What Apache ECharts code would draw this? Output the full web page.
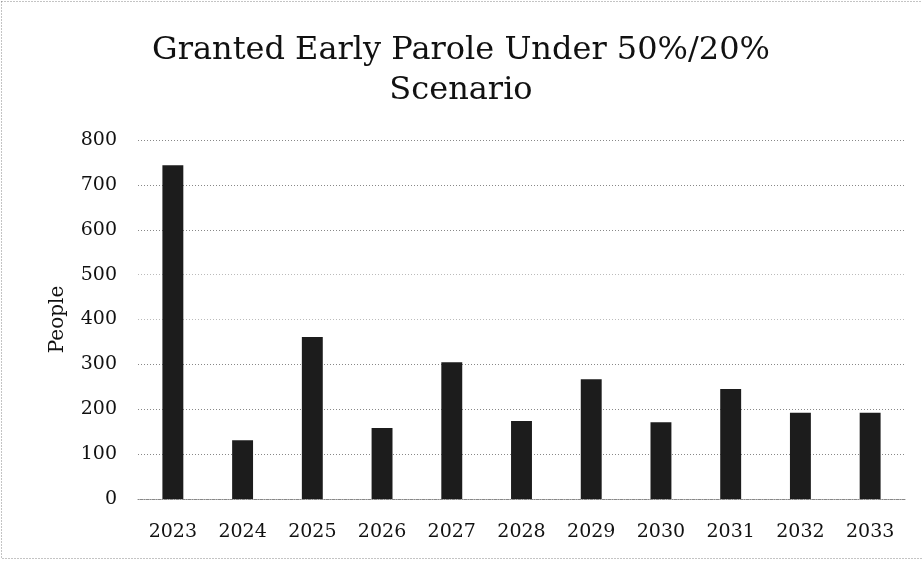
<!DOCTYPE html>
<html>
<head>
<meta charset="utf-8">
<script src="https://cdn.jsdelivr.net/npm/echarts@6/dist/echarts.min.js"></script>
<style>
html, body { margin: 0; padding: 0; background: #fff; }
#chart { width: 922px; height: 561px; }
</style>
</head>
<body>
<div id="chart"></div>
<script>
const years = ['2023', '2024', '2025', '2026', '2027', '2028', '2029', '2030', '2031', '2032', '2033'];
const people = [744, 131, 361, 158, 305, 174, 267, 171, 245, 192, 192];
const yTicks = [0, 100, 200, 300, 400, 500, 600, 700, 800];

const serif = '"DejaVu Serif", "Liberation Serif", serif';
const chart = echarts.init(document.getElementById('chart'));

chart.setOption({
	backgroundColor: '#fff',
	animation: false,
	title: {
		text: 'Granted Early Parole Under 50%/20%\nScenario',
		left: 'center',
		top: 26,
		textStyle: {
			fontFamily: serif,
			fontWeight: 'normal',
			fontSize: 32,
			lineHeight: 40,
			color: '#111'
		}
	},
	graphic: [{
		type: 'rect',
		shape: { x: 1.5, y: 1.5, width: 930, height: 557 },
		style: { fill: 'none', stroke: '#888', lineWidth: 1, lineDash: [1, 2] },
		silent: true
	}],
	grid: {
		left: 138,
		right: 17,
		top: 140,
		bottom: 62
	},
	xAxis: {
		type: 'category',
		data: years,
		axisLine: { show: true, lineStyle: { color: '#888', type: 'dotted' } },
		axisTick: { show: false },
		axisLabel: {
			fontFamily: serif,
			fontSize: 19,
			color: '#111',
			margin: 24
		}
	},
	yAxis: {
		type: 'value',
		min: yTicks[0],
		max: yTicks[yTicks.length - 1],
		interval: 100,
		name: 'People',
		nameLocation: 'middle',
		nameGap: 70,
		nameTextStyle: { fontFamily: serif, fontSize: 20, color: '#111' },
		axisLine: { show: false },
		axisTick: { show: false },
		axisLabel: {
			fontFamily: serif,
			fontSize: 19,
			color: '#111',
			margin: 21
		},
		splitLine: {
			show: true,
			lineStyle: {
				color: ['#888', '#888', '#888', '#888', '#bbb', '#bbb', '#888', '#888', '#888'],
				type: [1, 2],
				width: 1
			}
		}
	},
	series: [{
		type: 'bar',
		data: people,
		barWidth: '30%',
		itemStyle: { color: '#1c1c1c' }
	}]
});
</script>
</body>
</html>
